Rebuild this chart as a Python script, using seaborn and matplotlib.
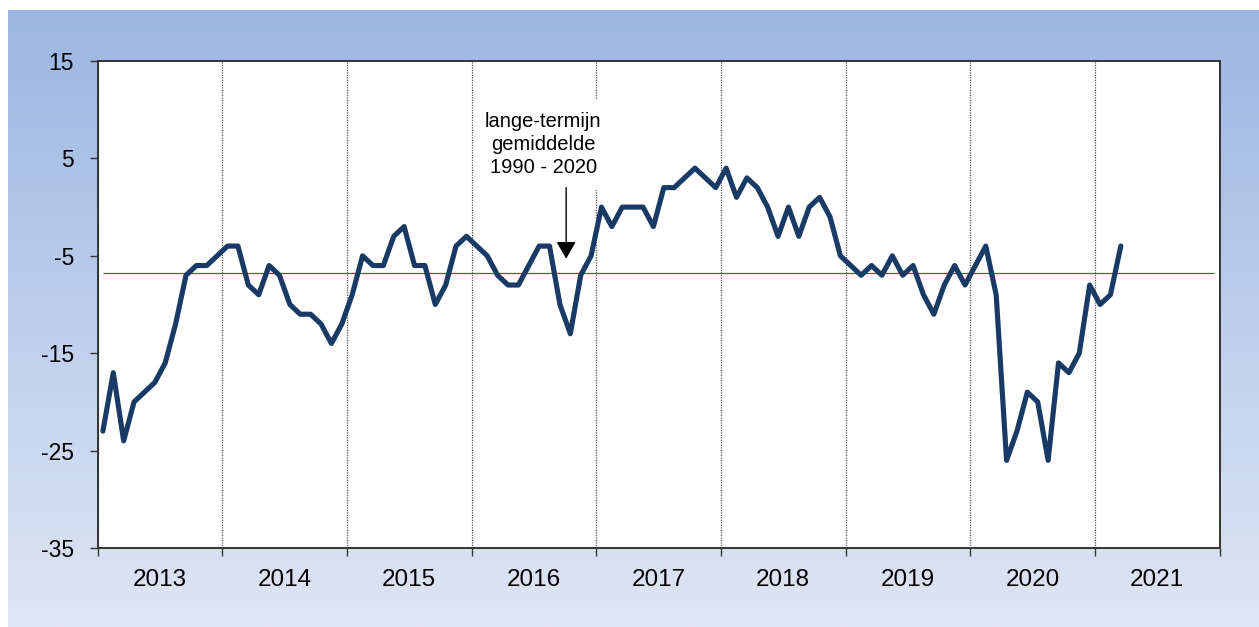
import numpy as np
import pandas as pd
import matplotlib
matplotlib.use('Agg')
import matplotlib.pyplot as plt
from matplotlib.colors import LinearSegmentedColormap
import seaborn as sns

# maandelijkse waarden, jan 2013 - mrt 2021
jaren = ['2013', '2014', '2015', '2016', '2017', '2018', '2019', '2020', '2021']
w_2013 = [-23, -17, -24, -20, -19, -18, -16, -12, -7, -6, -6, -5]
w_2014 = [-4, -4, -8, -9, -6, -7, -10, -11, -11, -12, -14, -12]
w_2015 = [-9, -5, -6, -6, -3, -2, -6, -6, -10, -8, -4, -3]
w_2016 = [-4, -5, -7, -8, -8, -6, -4, -4, -10, -13, -7, -5]
w_2017 = [0, -2, 0, 0, 0, -2, 2, 2, 3, 4, 3, 2]
w_2018 = [4, 1, 3, 2, 0, -3, 0, -3, 0, 1, -1, -5]
w_2019 = [-6, -7, -6, -7, -5, -7, -6, -9, -11, -8, -6, -8]
w_2020 = [-6, -4, -9, -26, -23, -19, -20, -26, -16, -17, -15, -8]
w_2021 = [-10, -9, -4]
waarden = w_2013 + w_2014 + w_2015 + w_2016 + w_2017 + w_2018 + w_2019 + w_2020 + w_2021
gemiddelde = -6.8
y_ticks = [-35, -25, -15, -5, 5, 15]

sns.set_style('white')
plt.rcParams['font.family'] = ['Liberation Sans', 'DejaVu Sans']
plt.rcParams['text.color'] = 'black'
plt.rcParams['xtick.color'] = 'black'
plt.rcParams['ytick.color'] = 'black'

fig = plt.figure(figsize=(12.59, 6.27), dpi=100)
fig.patch.set_facecolor('white')

# achtergrond met kleurverloop
bg = fig.add_axes([8 / 1259, 0, 1 - 8 / 1259, 617 / 627], zorder=0)
verloop = LinearSegmentedColormap.from_list('bg', ['#dfe6f4', '#9cb6e3'])
bg.imshow(np.linspace(0, 1, 256).reshape(-1, 1)[::-1], aspect='auto', cmap=verloop)
bg.axis('off')

ax = fig.add_axes([97.7 / 1259, 1 - 548 / 627, (1219.5 - 97.7) / 1259, (548 - 61) / 627], zorder=1)
ax.set_facecolor('white')

df = pd.DataFrame({'maand': np.arange(len(waarden)) + 0.5, 'waarde': waarden})
sns.lineplot(data=df, x='maand', y='waarde', ax=ax, color='#183a64', lw=3.7, zorder=5)

ax.hlines(gemiddelde, 0.5, len(jaren) * 12 - 0.5, color='#b03535', lw=0.9, zorder=4)

ax.set_xlim(0, len(jaren) * 12)
ax.set_ylim(-35, 15)
ax.set_yticks(y_ticks)
ax.set_yticklabels([str(v) for v in y_ticks], fontsize=16.5)
ax.set_xticks(np.arange(0, len(jaren) * 12 + 1, 12))
ax.set_xticklabels([])
ax.set_xticks(np.arange(len(jaren)) * 12 + 6, minor=True)
ax.set_xticklabels(jaren, minor=True, fontsize=17.5)
ax.tick_params(axis='x', which='major', direction='out', length=5.5, width=1, color='#333333', bottom=True)
ax.tick_params(axis='x', which='minor', length=0, pad=15, labelcolor='black')
ax.tick_params(axis='y', direction='out', length=5.5, width=1, color='#333333', left=True, pad=11.5,
               labelcolor='black')
ax.set_xlabel('')
ax.set_ylabel('')

ax.xaxis.grid(True, which='major', ls=(0, (1, 1)), color='#555555', lw=0.9, zorder=1)
ax.yaxis.grid(False)
for s in ax.spines.values():
    s.set_visible(True)
    s.set_color('#333333')
    s.set_linewidth(1.4)

ax.text(42.9, 6.4, 'lange-termijn\ngemiddelde\n1990 - 2020', ha='center', va='center',
        fontsize=14.5, linespacing=1.28, color='black', zorder=3,
        bbox=dict(facecolor='white', edgecolor='none', pad=9))
ax.annotate('', xy=(45.1, -5.3), xytext=(45.1, 2.0), zorder=6,
            arrowprops=dict(arrowstyle='-|>,head_width=0.4,head_length=0.7',
                            mutation_scale=15, color='black', lw=1, shrinkA=0, shrinkB=0))

fig.savefig('out.png', dpi=100)
